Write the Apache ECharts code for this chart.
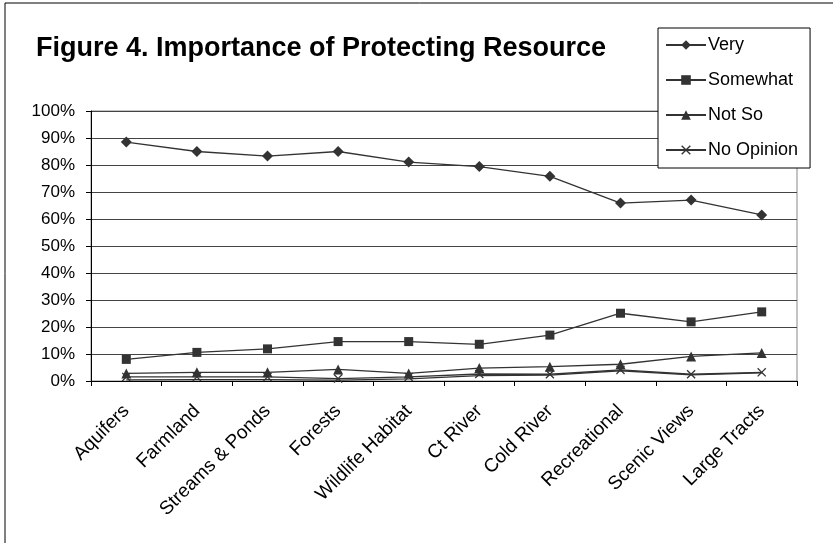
<!DOCTYPE html>
<html>
<head>
<meta charset="utf-8">
<script src="https://cdn.jsdelivr.net/npm/echarts@6/dist/echarts.min.js"></script>
<style>
  html, body { margin: 0; padding: 0; background: #fff; }
  #chart { width: 833px; height: 543px; }
</style>
</head>
<body>
<div id="chart"></div>
<script>
// categories along the x axis
const resources = ["Aquifers", "Farmland", "Streams & Ponds", "Forests", "Wildlife Habitat",
    "Ct River", "Cold River", "Recreational", "Scenic Views", "Large Tracts"];

// percent of respondents
const very = [88.5, 85.0, 83.3, 85.0, 81.1, 79.4, 75.8, 65.9, 67.0, 61.5];
const somewhat = [8.0, 10.6, 11.9, 14.6, 14.6, 13.6, 17.0, 25.1, 21.9, 25.6];
const notSo = [2.8, 3.2, 3.2, 4.3, 2.8, 4.8, 5.3, 6.2, 9.1, 10.4];
const noOpinion = [1.5, 1.5, 1.5, 0.9, 1.5, 2.6, 2.5, 4.1, 2.5, 3.2];
const unlabeled = [0.4, 0.5, 0.5, 0.3, 0.8, 2.0, 2.2, 3.8, 2.3, 3.0]; // faint line without legend entry

const yTicks = [0, 10, 20, 30, 40, 50, 60, 70, 80, 90, 100];

const ink = "#333333";
const font = "'Liberation Sans', Arial, sans-serif";
const crossPath = "path://M0,1 L1,0 L5,4 L9,0 L10,1 L6,5 L10,9 L9,10 L5,6 L1,10 L0,9 L4,5 Z";

function lineSeries(name, data, symbol, size) {
    return {
        name,
        type: "line",
        data,
        symbol,
        symbolSize: size,
        showSymbol: symbol !== "none",
        lineStyle: { color: ink, width: 1.3 },
        itemStyle: { color: ink },
        emphasis: { disabled: true },
        silent: true
    };
}

const chart = echarts.init(document.getElementById("chart"), null, { renderer: "canvas" });

chart.setOption({
    animation: false,
    backgroundColor: "#ffffff",
    graphic: [{
        type: "rect",
        shape: { x: 5, y: 3, width: 900, height: 600 },
        style: { fill: "none", stroke: "#000", lineWidth: 1 },
        silent: true,
        z: -10
    }],
    title: {
        text: "Figure 4. Importance of Protecting Resource",
        left: 31,
        top: 30,
        textStyle: {
            fontFamily: font,
            fontWeight: "bold",
            fontSize: 27,
            color: "#000"
        }
    },
    legend: {
        data: ["Very", "Somewhat", "Not So", "No Opinion"],
        orient: "vertical",
        left: 658,
        top: 28,
        padding: [8, 12, 9, 7],
        itemWidth: 40,
        itemHeight: 12,
        itemGap: 17,
        backgroundColor: "#ffffff",
        borderColor: "#000",
        borderWidth: 1,
        borderRadius: 0,
        textStyle: { fontFamily: font, fontSize: 18, color: "#000", padding: [0, 0, 0, -3] },
        z: 10
    },
    grid: {
        left: 91,
        right: 36,
        top: 111,
        bottom: 162,
        show: true,
        borderColor: "#888",
        borderWidth: 1,
        containLabel: false
    },
    xAxis: {
        type: "category",
        data: resources,
        boundaryGap: true,
        axisLine: { lineStyle: { color: "#000", width: 1 } },
        axisTick: { show: true, length: 5, lineStyle: { color: "#000" } },
        axisLabel: {
            rotate: 45,
            margin: 27,
            interval: 0,
            fontFamily: font,
            fontSize: 19,
            color: "#000"
        },
        splitLine: { show: false }
    },
    yAxis: {
        type: "value",
        min: yTicks[0],
        max: yTicks[yTicks.length - 1],
        interval: 10,
        axisLine: { show: true, lineStyle: { color: "#000", width: 1 } },
        axisTick: { show: true, length: 5, lineStyle: { color: "#000" } },
        axisLabel: {
            margin: 16,
            fontFamily: font,
            fontSize: 17,
            color: "#000",
            formatter: "{value}%"
        },
        splitLine: { show: true, lineStyle: { color: "#444", width: 1 } }
    },
    series: [
        lineSeries("Very", very, "diamond", 11),
        lineSeries("Somewhat", somewhat, "rect", 9),
        lineSeries("Not So", notSo, "triangle", 10),
        lineSeries("No Opinion", noOpinion, crossPath, 9),
        lineSeries("Unlabeled", unlabeled, "none", 0)
    ]
});
</script>
</body>
</html>
